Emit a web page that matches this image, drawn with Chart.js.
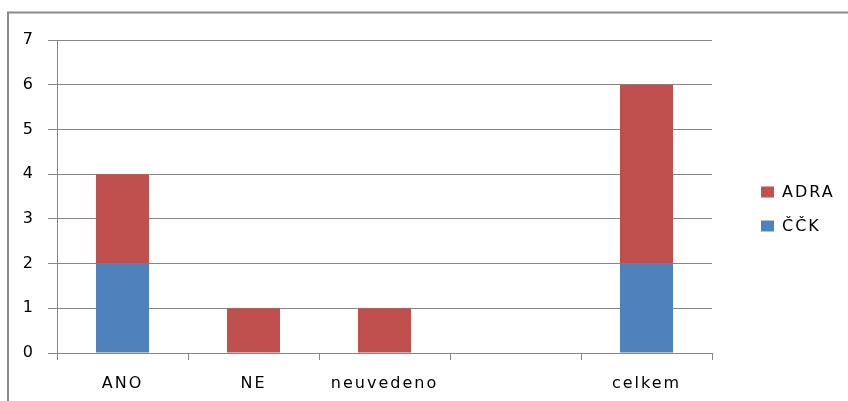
<!DOCTYPE html>
<html>
<head>
<meta charset="utf-8">
<script src="https://cdn.jsdelivr.net/npm/chart.js@4/dist/chart.umd.min.js"></script>
<style>
html,body{margin:0;padding:0;background:#fff;}
#wrap{position:relative;width:848px;height:401px;}
</style>
</head>
<body>
<div id="wrap"><canvas id="c" width="848" height="401"></canvas></div>
<script>
const categories = ['ANO', 'NE', 'neuvedeno', '', 'celkem'];
const seriesCCK = [2, 0, 0, 0, 2];
const seriesADRA = [2, 1, 1, 0, 4];
const yTicks = [0, 1, 2, 3, 4, 5, 6, 7];

const colCCK = '#4F81BD';
const colADRA = '#C0504D';
const gridCol = '#868686';

const framePlugin = {
  id: 'frame',
  beforeDraw(chart) {
    const ctx = chart.ctx;
    ctx.save();
    ctx.fillStyle = '#fff';
    ctx.fillRect(0, 0, chart.width, chart.height);
    ctx.strokeStyle = '#8a8a8a';
    ctx.lineWidth = 2;
    ctx.beginPath();
    ctx.moveTo(8, chart.height);
    ctx.lineTo(8, 12.5);
    ctx.lineTo(chart.width, 12.5);
    ctx.stroke();
    ctx.restore();
    ctx.letterSpacing = '2px';
  },
  afterDraw(chart) {
    const ctx = chart.ctx;
    ctx.save();
    ctx.letterSpacing = '2px';
    ctx.font = '16px "DejaVu Sans"';
    ctx.textBaseline = 'middle';
    ctx.textAlign = 'left';
    const items = chart.data.datasets.slice().reverse();
    const ys = [192, 226];
    items.forEach((ds, i) => {
      ctx.fillStyle = ds.backgroundColor;
      ctx.fillRect(761, ys[i] - 5.5, 13, 11);
      ctx.fillStyle = '#000';
      ctx.fillText(ds.label, 782, ys[i] + 1);
    });
    ctx.restore();
  }
};

new Chart(document.getElementById('c'), {
  type: 'bar',
  data: {
    labels: categories,
    datasets: [
      { label: 'ČČK', data: seriesCCK, backgroundColor: colCCK, barPercentage: 0.405, categoryPercentage: 1.0 },
      { label: 'ADRA', data: seriesADRA, backgroundColor: colADRA, barPercentage: 0.405, categoryPercentage: 1.0 }
    ]
  },
  options: {
    responsive: false,
    animation: false,
    devicePixelRatio: 1,
    layout: { padding: { left: 0, right: 136, top: 40, bottom: 0 } },
    plugins: { legend: { display: false }, tooltip: { enabled: false } },
    scales: {
      x: {
        stacked: true,
        afterFit(scale) { scale.height = 48; },
        grid: { display: true, offset: true, drawOnChartArea: false, drawTicks: true, tickLength: 7, color: gridCol },
        border: { display: true, color: gridCol, width: 1 },
        ticks: { color: '#000', font: { family: 'DejaVu Sans', size: 16 }, padding: 14, maxRotation: 0, autoSkip: false }
      },
      y: {
        stacked: true,
        min: 0,
        max: 7,
        afterFit(scale) { scale.width = 57; },
        afterBuildTicks(scale) { scale.ticks = yTicks.map(v => ({ value: v })); },
        grid: { color: gridCol, tickLength: 9, drawTicks: true },
        border: { display: true, color: gridCol, width: 1 },
        ticks: { color: '#000', font: { family: 'DejaVu Sans', size: 16 }, padding: 13 }
      }
    }
  },
  plugins: [framePlugin]
});
</script>
</body>
</html>
